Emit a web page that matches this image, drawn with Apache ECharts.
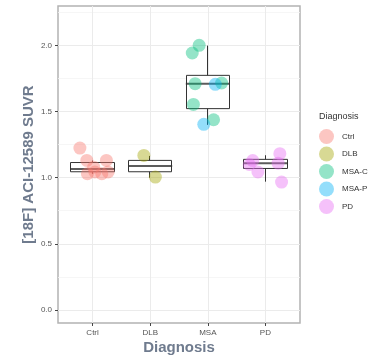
<!DOCTYPE html>
<html>
<head>
<meta charset="utf-8">
<script src="https://cdn.jsdelivr.net/npm/echarts@6/dist/echarts.min.js"></script>
<style>
	html, body { margin: 0; padding: 0; background: #fff; }
	#chart { width: 386px; height: 359px; }
</style>
</head>
<body>
<div id="chart"></div>
<script>
var categories = ['Ctrl', 'DLB', 'MSA', 'PD'];
var groups = ['Ctrl', 'DLB', 'MSA-C', 'MSA-P', 'PD'];
var colors = ['#F8766D', '#A3A500', '#00BF7D', '#00B0F6', '#E76BF3'];

// [position, lower whisker, Q1, median, Q3, upper whisker]
var boxStats = [
	[0, 1.03, 1.045, 1.065, 1.115, 1.13],
	[1, 1.00, 1.045, 1.088, 1.131, 1.165],
	[2, 1.40, 1.523, 1.712, 1.775, 2.00],
	[3, 0.97, 1.070, 1.110, 1.139, 1.17]
];

// jittered points: [x position, SUVR]
var ctrlPts = [[-0.22, 1.224], [-0.10, 1.131], [0.24, 1.131], [-0.09, 1.03], [0.04, 1.043], [0.16, 1.03], [0.27, 1.043], [0.02, 1.08]];
var dlbPts = [[0.89, 1.169], [1.09, 1.005]];
var msacPts = [[1.85, 2.002], [1.73, 1.944], [1.78, 1.712], [2.24, 1.717], [1.75, 1.555], [2.10, 1.439]];
var msapPts = [[2.13, 1.707], [1.93, 1.404]];
var pdPts = [[2.78, 1.13], [2.72, 1.10], [2.87, 1.043], [3.25, 1.182], [3.22, 1.11], [3.28, 0.967]];

var yTicks = [0, 0.5, 1, 1.5, 2];
var yMinor = [0.25, 0.75, 1.25, 1.75, 2.25];

var myChart = echarts.init(document.getElementById('chart'));
var font = 'Liberation Sans, Arial, sans-serif';

function pointSeries(name, pts, idx) {
	return {
		name: name,
		type: 'scatter',
		xAxisIndex: 0,
		yAxisIndex: 0,
		symbol: 'circle',
		symbolSize: 13,
		z: 5,
		itemStyle: { color: colors[idx], opacity: 0.42 },
		data: pts
	};
}

// box drawn as a candle: body Q1..Q3, wicks to the whiskers (no end caps, like ggplot)
var boxes = [];
var medians = [];
for (var i = 0; i < boxStats.length; i++) {
	var b = boxStats[i];
	boxes.push([b[0], b[2], b[4], b[1], b[5]]);
	medians.push([b[0], b[3]]);
}

var option = {
	backgroundColor: '#fff',
	animation: false,
	color: colors,
	textStyle: { fontFamily: font },
	title: {
		text: 'Diagnosis',
		left: 314,
		top: 107,
		textStyle: { fontSize: 9, fontWeight: 'normal', color: '#333', fontFamily: font }
	},
	legend: {
		data: groups,
		orient: 'vertical',
		left: 314,
		top: 124,
		itemWidth: 15,
		itemHeight: 15,
		itemGap: 2.5,
		icon: 'circle',
		itemStyle: { opacity: 0.42 },
		textStyle: { fontSize: 8, color: '#333', fontFamily: font, padding: [0, 0, 0, 3] }
	},
	grid: {
		left: 58,
		top: 6,
		right: 86,
		bottom: 36,
		outerBoundsMode: 'none',
		show: true,
		borderColor: '#b3b3b3',
		borderWidth: 1.5,
		backgroundColor: '#fff'
	},
	xAxis: {
		type: 'value',
		min: -0.6,
		max: 3.6,
		name: 'Diagnosis',
		nameLocation: 'middle',
		nameGap: 17,
		nameMoveOverlap: false,
		nameTextStyle: { fontSize: 15, fontWeight: 'bold', color: '#6f7b8e', fontFamily: font },
		axisLine: { show: false, onZero: false },
		axisTick: { show: true, length: 3, customValues: [0, 1, 2, 3], lineStyle: { color: '#444', width: 1 } },
		axisLabel: {
			customValues: [0, 1, 2, 3],
			fontSize: 8,
			color: '#555',
			margin: 6,
			formatter: function (v) { return categories[Math.round(v)]; }
		},
		splitLine: { show: true, lineStyle: { color: '#ebebeb', width: 1 } }
	},
	yAxis: [{
		type: 'value',
		min: -0.1,
		max: 2.3,
		name: '[18F] ACI-12589 SUVR',
		nameLocation: 'middle',
		nameRotate: 90,
		nameGap: 22,
		nameMoveOverlap: false,
		nameTextStyle: { fontSize: 15, fontWeight: 'bold', color: '#6f7b8e', fontFamily: font },
		axisLine: { show: false, onZero: false },
		axisTick: { show: true, length: 3, customValues: yTicks, lineStyle: { color: '#444', width: 1 } },
		axisLabel: {
			customValues: yTicks,
			fontSize: 8,
			color: '#555',
			margin: 6,
			formatter: function (v) { return v.toFixed(1); }
		},
		splitLine: { show: true, lineStyle: { color: '#ebebeb', width: 1 } }
	}, {
		type: 'value',
		min: -0.1,
		max: 2.3,
		position: 'left',
		axisLine: { show: false, onZero: false },
		axisTick: { show: false, customValues: yMinor },
		axisLabel: { show: false, customValues: yMinor },
		splitLine: { show: true, lineStyle: { color: '#f4f4f4', width: 0.8 } }
	}],
	series: [
		{
			name: 'box',
			type: 'candlestick',
			xAxisIndex: 0,
			yAxisIndex: 0,
			layout: 'horizontal',
			barWidth: 44,
			z: 3,
			itemStyle: {
				color: '#fff',
				color0: '#fff',
				borderColor: '#333',
				borderColor0: '#333',
				borderWidth: 1
			},
			data: boxes
		},
		{
			name: 'median',
			type: 'scatter',
			xAxisIndex: 0,
			yAxisIndex: 0,
			symbol: 'rect',
			symbolSize: [44, 2],
			z: 4,
			itemStyle: { color: '#333' },
			data: medians
		},
		pointSeries('Ctrl', ctrlPts, 0),
		pointSeries('DLB', dlbPts, 1),
		pointSeries('MSA-C', msacPts, 2),
		pointSeries('MSA-P', msapPts, 3),
		pointSeries('PD', pdPts, 4)
	]
};

myChart.setOption(option);
</script>
</body>
</html>
